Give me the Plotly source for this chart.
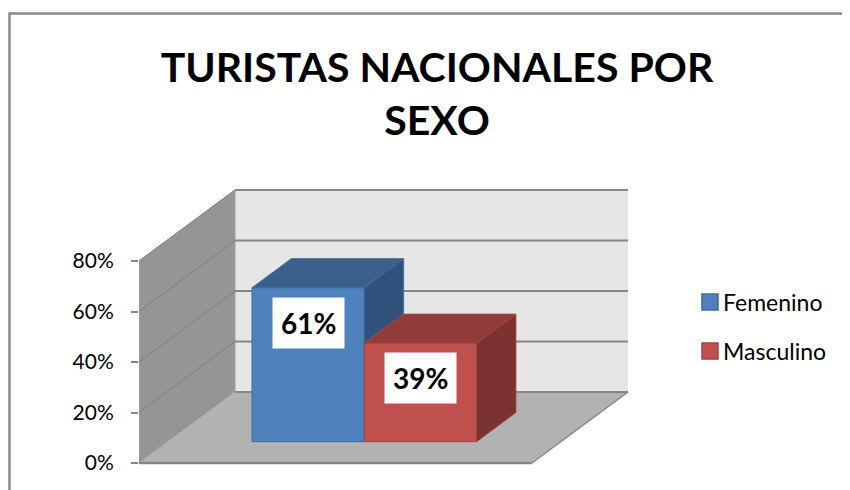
import plotly.graph_objects as go

# ---------------- data ----------------
categories = ["Turistas nacionales"]
series_names = ["Femenino", "Masculino"]
series_values = [61, 39]          # percent
tick_values = [0, 20, 40, 60, 80]
tick_labels = ["0%", "20%", "40%", "60%", "80%"]
title_text = "TURISTAS NACIONALES POR<br>SEXO"

# ---------------- styles ----------------
FRONT = ["#4f81bd", "#c0504d"]
TOP = ["#3b608c", "#913c3a"]
SIDE = ["#32527d", "#7b3230"]
EDGE = ["#3d6ca3", "#a54442"]
FONT = "Lato"

# page body margin offset (the html page places the figure at 8,8)
OFF = 8
W, H = 850 - OFF, 490 - OFF

# pixel geometry (screen coords of the reference) converted to figure coords
PLOT_L, PLOT_R, PLOT_T, PLOT_B = 139 - OFF, 650 - OFF, 180 - OFF, 470 - OFF
PX_PER_X = 393.0      # one category width in px (front plane)
PX_PER_PCT = 2.525    # px per percent
ZERO_PY = 463 - OFF   # pixel y of 0%

x_range = [0, (PLOT_R - PLOT_L) / PX_PER_X]
y_range = [-(PLOT_B - ZERO_PY) / PX_PER_PCT, (ZERO_PY - PLOT_T) / PX_PER_PCT]

# oblique depth vector (full floor depth), in data units
DX = 96 / PX_PER_X
DY = 71 / PX_PER_PCT
F0, F1 = 0.30, 0.71   # bar front/back depth fractions
YMAX = tick_values[-1]

n = len(series_values)
gap = 1.5             # gap width 150%
bw = 1.0 / (n + gap)

def px2paper_x(px):   # px in screen coords
    return (px - OFF - PLOT_L) / (PLOT_R - PLOT_L)

def py2paper_y(py):
    return (PLOT_B - (py - OFF)) / (PLOT_B - PLOT_T)

def path(pts):
    return "M " + " L ".join(f"{x},{y}" for x, y in pts) + " Z"

shapes = []
GRID = "#868686"

# back wall
shapes.append(dict(type="path", xref="x", yref="y", layer="below",
                   path=path([(DX, DY), (DX, YMAX + DY), (1 + DX, YMAX + DY), (1 + DX, DY)]),
                   fillcolor="#e6e6e6", line=dict(width=0)))
# left wall
shapes.append(dict(type="path", xref="x", yref="y", layer="below",
                   path=path([(0, 0), (0, YMAX), (DX, YMAX + DY), (DX, DY)]),
                   fillcolor="#959595", line=dict(color="#a0a0a0", width=1)))
# floor
shapes.append(dict(type="path", xref="x", yref="y", layer="below",
                   path=path([(0, 0), (1, 0), (1 + DX, DY), (DX, DY)]),
                   fillcolor="#b2b2b2", line=dict(width=0)))
# floor edges
shapes.append(dict(type="line", xref="x", yref="y", layer="below",
                   x0=0, y0=0, x1=1, y1=0, line=dict(color=GRID, width=2.5)))
shapes.append(dict(type="line", xref="x", yref="y", layer="below",
                   x0=1, y0=0, x1=1 + DX, y1=DY, line=dict(color=GRID, width=1.5)))
# gridlines
for v in tick_values:
    shapes.append(dict(type="line", xref="x", yref="y", layer="below",
                       x0=DX, y0=v + DY, x1=1 + DX, y1=v + DY,
                       line=dict(color=GRID, width=2)))
    if v > 0:
        shapes.append(dict(type="line", xref="x", yref="y", layer="below",
                           x0=0, y0=v, x1=DX, y1=v + DY,
                           line=dict(color="#808080", width=1)))

fig = go.Figure()

b0 = F0 * DY
dDX = (F1 - F0) * DX
dDY = (F1 - F0) * DY
annotations = []

lefts = []
for i, (name, v) in enumerate(zip(series_names, series_values)):
    left = (gap / 2) * bw + i * bw + F0 * DX
    lefts.append(left)
    fig.add_trace(go.Bar(
        x=[left + bw / 2], y=[v], base=[b0], width=[bw], name=name,
        marker=dict(color=FRONT[i], line=dict(color=EDGE[i], width=1)),
        showlegend=False, hovertemplate=f"{name}: %{{y}}%<extra></extra>"))

for i, (name, v) in enumerate(zip(series_names, series_values)):
    left = lefts[i]
    right = left + bw
    top = v + b0
    # top face
    fig.add_trace(go.Scatter(
        x=[left, right, right + dDX, left + dDX, left],
        y=[top, top, top + dDY, top + dDY, top],
        mode="lines", fill="toself", fillcolor=TOP[i],
        line=dict(color=EDGE[i], width=0.8), hoverinfo="skip", showlegend=False))
    # visible part of side face
    lo = 0
    if i + 1 < n:
        lo = series_values[i + 1]
    if lo < v:
        fig.add_trace(go.Scatter(
            x=[right, right, right + dDX, right + dDX, right],
            y=[lo + b0, top, top + dDY, lo + b0 + dDY, lo + b0],
            mode="lines", fill="toself", fillcolor=SIDE[i],
            line=dict(color=EDGE[i], width=0.8), hoverinfo="skip", showlegend=False))
    # data label
    annotations.append(dict(
        x=left + bw / 2, y=top, xref="x", yref="y", yanchor="top", yshift=-9,
        text=f"<b>{v}%</b>", showarrow=False, bgcolor="white", borderpad=8,
        font=dict(family=FONT, size=28, color="black")))

# manual legend
leg_py = [302, 351]
for i, name in enumerate(series_names):
    cy = leg_py[i]
    shapes.append(dict(type="rect", xref="paper", yref="paper",
                       x0=px2paper_x(702), x1=px2paper_x(718),
                       y0=py2paper_y(cy + 8), y1=py2paper_y(cy - 8),
                       fillcolor=FRONT[i], line=dict(color=EDGE[i], width=1.5)))
    annotations.append(dict(x=px2paper_x(721), y=py2paper_y(cy), xref="paper", yref="paper",
                            xanchor="left", yanchor="middle", text=name, showarrow=False,
                            font=dict(family=FONT, size=23, color="black")))

# chart border (left and top visible)
shapes.append(dict(type="rect", xref="paper", yref="paper",
                   x0=px2paper_x(9.5), x1=px2paper_x(900),
                   y0=py2paper_y(600), y1=py2paper_y(13.5),
                   line=dict(color="#898989", width=2.5), fillcolor="rgba(0,0,0,0)"))

fig.update_layout(
    width=W, height=H, autosize=False,
    margin=dict(l=PLOT_L, r=W - PLOT_R, t=PLOT_T, b=H - PLOT_B, pad=0),
    paper_bgcolor="white", plot_bgcolor="rgba(0,0,0,0)",
    barmode="overlay", showlegend=False,
    title=dict(text=f"<b>{title_text}</b>", x=(437 - OFF) / W, xanchor="center", xref="container",
               y=1 - 73.5 / H, yanchor="middle", yref="container",
               font=dict(family=FONT, size=41, color="black")),
    xaxis=dict(range=x_range, visible=False, fixedrange=True),
    yaxis=dict(range=y_range, tickvals=tick_values, ticktext=tick_labels,
               showgrid=False, zeroline=False, showline=False,
               ticks="outside", ticklen=7, tickwidth=2, tickcolor=GRID,
               ticklabelstandoff=13,
               tickfont=dict(family=FONT, size=21, color="black"), fixedrange=True),
    shapes=shapes, annotations=annotations,
    font=dict(family=FONT),
)

fig.write_html("out.html")
